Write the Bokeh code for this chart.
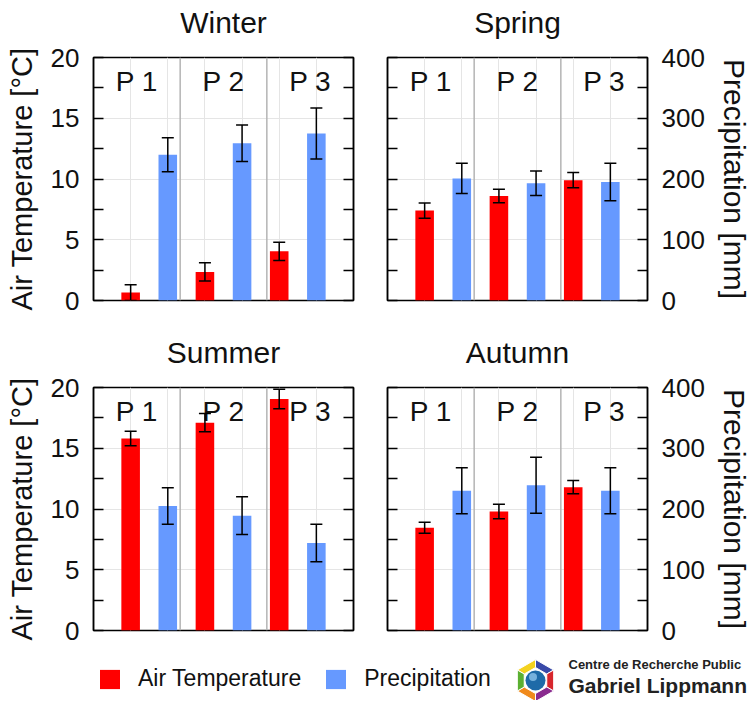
import math
from bokeh.plotting import figure
from bokeh.models import (Range1d, LinearAxis, FixedTicker, Whisker, TeeHead,
                          ColumnDataSource, Span, Legend, LegendItem)
from bokeh.layouts import column, row
from bokeh.embed import file_html
from bokeh.resources import INLINE
from bokeh.core.properties import value

FONT = "Liberation Sans"
RED = "#ff0000"
BLUE = "#6699ff"
INK = "#111111"

# ---------------- data ----------------
periods = ["P 1", "P 2", "P 3"]
seasons = ["Winter", "Spring", "Summer", "Autumn"]

temp_ticks = [0, 5, 10, 15, 20]
temp_minor = [2.5, 7.5, 12.5, 17.5]
precip_ticks = [0, 100, 200, 300, 400]
precip_minor = [50, 150, 250, 350]

winter_temp = [0.65, 2.35, 4.05]
winter_temp_err = [0.65, 0.75, 0.75]
winter_precip = [240, 259, 275]
winter_precip_err = [28, 30, 42]

spring_temp = [7.4, 8.6, 9.9]
spring_temp_err = [0.63, 0.56, 0.63]
spring_precip = [201, 193, 195]
spring_precip_err = [25, 20, 31]

summer_temp = [15.8, 17.1, 19.05]
summer_temp_err = [0.6, 0.75, 0.8]
summer_precip = [205, 189, 144]
summer_precip_err = [30, 31, 31]

autumn_temp = [8.45, 9.8, 11.8]
autumn_temp_err = [0.45, 0.6, 0.55]
autumn_precip = [230, 239, 230]
autumn_precip_err = [38, 46, 38]

# ---------------- layout geometry (pixels) ----------------
FRAME_W, FRAME_H = 260, 243
L_LEFT, L_RIGHT = 93, 14          # borders of left-column panels
R_LEFT, R_RIGHT = 20, 103         # borders of right-column panels
TOTAL_W = L_LEFT + FRAME_W + L_RIGHT + R_LEFT + FRAME_W + R_RIGHT
FRAME_X0 = [L_LEFT, L_LEFT + FRAME_W + L_RIGHT + R_LEFT]


def style_axis(ax, show_labels, ticks, minor, label_size):
    ax.ticker = FixedTicker(ticks=ticks, minor_ticks=minor)
    ax.major_tick_in = 10
    ax.major_tick_out = 0
    ax.minor_tick_in = 10
    ax.minor_tick_out = 0
    ax.axis_line_color = "black"
    ax.axis_line_width = 1.5
    ax.major_tick_line_color = "black"
    ax.major_tick_line_width = 1.5
    ax.minor_tick_line_color = "black"
    ax.minor_tick_line_width = 1.5
    ax.major_label_text_font = FONT
    ax.major_label_text_font_size = "26px"
    ax.major_label_text_color = INK
    ax.axis_label_text_font = FONT
    ax.axis_label_text_font_size = label_size
    ax.axis_label_text_font_style = "normal"
    ax.axis_label_text_color = INK
    if show_labels:
        ax.major_label_standoff = 14
        ax.axis_label_standoff = 10
    else:
        ax.major_label_overrides = {t: "" for t in ticks}
        ax.major_label_standoff = 0


def make_panel(temp, temp_err, precip, precip_err, left_side, top_row):
    n = len(periods)
    xmax = 2 * n + 1
    p = figure(title=None, frame_width=FRAME_W, frame_height=FRAME_H,
               x_range=Range1d(0, xmax), y_range=Range1d(0, 20),
               x_axis_location=None, y_axis_location=None,
               toolbar_location=None, output_backend="svg",
               min_border_left=L_LEFT if left_side else R_LEFT,
               min_border_right=L_RIGHT if left_side else R_RIGHT,
               min_border_top=17,
               min_border_bottom=16 if top_row else 18)
    p.extra_y_ranges = {"precip": Range1d(0, 400)}
    p.outline_line_color = "black"
    p.outline_line_width = 1.5
    p.outline_line_alpha = 1.0
    p.background_fill_color = "white"
    p.border_fill_color = "white"

    left_ax = LinearAxis(axis_label="Air Temperature [°C]" if left_side else None)
    style_axis(left_ax, left_side, temp_ticks, temp_minor, "29px")
    p.add_layout(left_ax, "left")
    right_ax = LinearAxis(y_range_name="precip",
                          axis_label=None if left_side else "Precipitation [mm]")
    style_axis(right_ax, not left_side, precip_ticks, precip_minor, "30px")
    p.add_layout(right_ax, "right")

    # group separators
    for k in range(1, n):
        p.add_layout(Span(location=xmax * k / n, dimension="height",
                          line_color="#b4b4b4", line_width=1.5))

    xt = [2 * i + 1 for i in range(n)]
    xp = [2 * i + 2 for i in range(n)]
    src_t = ColumnDataSource(dict(x=xt, top=temp,
                                  upper=[v + e for v, e in zip(temp, temp_err)],
                                  lower=[v - e for v, e in zip(temp, temp_err)]))
    src_p = ColumnDataSource(dict(x=xp, top=precip,
                                  upper=[v + e for v, e in zip(precip, precip_err)],
                                  lower=[v - e for v, e in zip(precip, precip_err)]))
    p.vbar(x="x", top="top", bottom=0, width=0.5, source=src_t,
           fill_color=RED, line_color=None)
    p.vbar(x="x", top="top", bottom=0, width=0.5, source=src_p,
           fill_color=BLUE, line_color=None, y_range_name="precip")
    for src, rn in ((src_t, "default"), (src_p, "precip")):
        w = Whisker(source=src, base="x", upper="upper", lower="lower",
                    line_color="black", line_width=1.5, level="overlay",
                    upper_head=TeeHead(size=12, line_color="black", line_width=1.5),
                    lower_head=TeeHead(size=12, line_color="black", line_width=1.5))
        if rn != "default":
            w.y_range_name = rn
        p.add_layout(w)

    p.text(x=[xmax * (2 * k + 1) / (2 * n) for k in range(n)], y=[18] * n,
           text=periods, text_align="center", text_baseline="middle",
           text_font=value(FONT), text_font_size="28px", text_color=INK)
    return p


def title_strip(names, height, y_mid):
    s = figure(width=TOTAL_W, height=height, x_range=Range1d(0, TOTAL_W),
               y_range=Range1d(0, height), x_axis_location=None,
               y_axis_location=None, toolbar_location=None,
               output_backend="svg", min_border=0)
    s.outline_line_color = None
    s.grid.visible = False
    s.text(x=[x0 + FRAME_W / 2 for x0 in FRAME_X0], y=[y_mid] * len(names),
           text=names, text_align="center", text_baseline="middle",
           text_font=value(FONT), text_font_size="30px", text_color=INK)
    return s


p_w = make_panel(winter_temp, winter_temp_err, winter_precip, winter_precip_err, True, True)
p_sp = make_panel(spring_temp, spring_temp_err, spring_precip, spring_precip_err, False, True)
p_su = make_panel(summer_temp, summer_temp_err, summer_precip, summer_precip_err, True, False)
p_au = make_panel(autumn_temp, autumn_temp_err, autumn_precip, autumn_precip_err, False, False)

t_top = title_strip(seasons[:2], 40, 18)
t_bot = title_strip(seasons[2:], 54, 18)

# ---------------- legend + logo strip ----------------
LW, LH = TOTAL_W, 52
lf = figure(width=LW, height=LH, x_range=Range1d(0, LW), y_range=Range1d(0, LH),
            x_axis_location=None, y_axis_location=None, toolbar_location=None,
            output_backend="svg", min_border=0)
lf.outline_line_color = None
lf.grid.visible = False
# zero-height bars: only used to carry the legend swatches
r_t = lf.vbar(x=[0], top=[0], bottom=[0], width=0, fill_color=RED, line_color=None)
r_p = lf.vbar(x=[0], top=[0], bottom=[0], width=0, fill_color=BLUE, line_color=None)
legend = Legend(items=[LegendItem(label="Air Temperature", renderers=[r_t]),
                       LegendItem(label="Precipitation", renderers=[r_p])],
                orientation="horizontal", location=(97, 8),
                glyph_width=25, glyph_height=24, label_height=24,
                label_standoff=16, spacing=22, padding=0, margin=0,
                border_line_color=None, background_fill_alpha=0,
                label_text_font=FONT, label_text_font_size="23px",
                label_text_color=INK, label_text_baseline="middle")
lf.add_layout(legend)

# logo: hexagonal ring of six coloured segments around a blue sphere
cx, cy, r_out, r_in = 535, 20, 21, 13
seg_colors = ["#f4d21f", "#3949a8", "#d7262d", "#8a2b8f", "#f08a1c", "#5bb031"]
xs, ys = [], []
for k in range(6):
    a0 = math.radians(150 - 60 * k)
    a1 = math.radians(90 - 60 * k)
    xs.append([cx + r_out * math.cos(a0), cx + r_out * math.cos(a1),
               cx + r_in * math.cos(a1), cx + r_in * math.cos(a0)])
    ys.append([cy + r_out * math.sin(a0), cy + r_out * math.sin(a1),
               cy + r_in * math.sin(a1), cy + r_in * math.sin(a0)])
lf.patches(xs, ys, fill_color=seg_colors, line_color="white", line_width=1)
lf.circle(x=[cx], y=[cy], radius=10, fill_color="#1e6aa8", line_color=None)
lf.circle(x=[cx - 2.5], y=[cy + 3.5], radius=4, fill_color="#8cc3ea", line_color=None, fill_alpha=0.8)
lf.text(x=[cx + 33], y=[36], text=["Centre de Recherche Public"],
        text_font=value(FONT), text_font_size="13px", text_font_style="bold",
        text_color="#222222", text_baseline="middle")
lf.text(x=[cx + 33], y=[15], text=["Gabriel Lippmann"],
        text_font=value(FONT), text_font_size="21px", text_font_style="bold",
        text_color="#222222", text_baseline="middle")

layout = column(t_top, row(p_w, p_sp), t_bot, row(p_su, p_au), lf)
open("out.html", "w").write(file_html(layout, INLINE))
